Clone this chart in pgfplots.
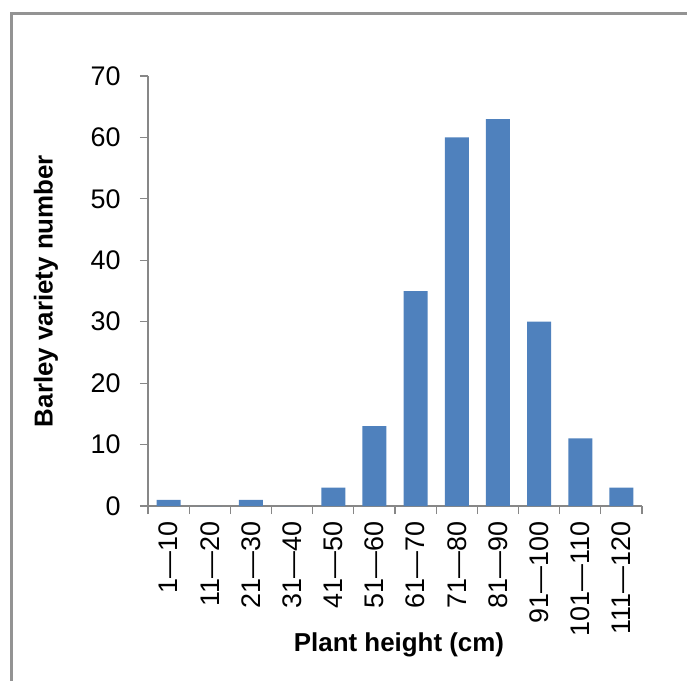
\documentclass[border=0pt]{standalone}
\usepackage{pgfplots}
\pgfplotsset{compat=1.18}
\usepackage{fontspec}
\setmainfont{Liberation Sans}
\definecolor{barblue}{HTML}{4F81BD}
\definecolor{axisgray}{HTML}{878787}
\begin{document}
\begin{tikzpicture}
\useasboundingbox (0,0) rectangle (687bp,681bp);
% chart area border (left and top edges visible)
\draw[axisgray!90, line width=3bp] (11bp,0) -- (11bp,667bp) -- (687bp,667bp);
\begin{axis}[
    at={(148bp,175bp)}, anchor=south west,
    scale only axis,
    width=494bp, height=430bp,
    xmin=-0.5, xmax=11.5,
    ymin=0, ymax=70,
    ytick={0,10,...,70},
    xtick={0,...,11},
    xticklabels={1—10,11—20,21—30,31—40,41—50,51—60,61—70,71—80,81—90,91—100,101—110,111—120},
    minor xtick={-0.5,0.5,...,11.5},
    every major x tick/.style={draw=none},
    axis x line*=bottom, axis y line*=left,
    axis line style={axisgray, line width=1.2bp},
    every tick/.style={axisgray, line width=1.2bp},
    tick align=outside,
    major tick length=8bp, minor tick length=8bp,
    y axis line style={-}, x axis line style={-},
    ticklabel style={font=\fontsize{27}{31}\selectfont},
    /pgf/number format/assume math mode=true,
    xticklabel style={rotate=90, anchor=east, xshift=-4bp},
    yticklabel style={xshift=-16bp},
    xlabel={Plant height (cm)},
    ylabel={Barley variety number},
    every axis x label/.style={at={(axis description cs:0.5,0)}, xshift=4bp, yshift=-139bp, anchor=center, font=\fontsize{26}{30}\selectfont\bfseries},
    every axis y label/.style={at={(axis description cs:0,0.5)}, xshift=-102bp, rotate=90, anchor=center, font=\fontsize{26}{30}\selectfont\bfseries},
    ybar, bar width=24bp,
    clip=false,
]
\addplot[fill=barblue, draw=none] coordinates {
    (0,1) (1,0) (2,1) (3,0) (4,3) (5,13) (6,35) (7,60) (8,63) (9,30) (10,11) (11,3)};
\end{axis}
\end{tikzpicture}
\end{document}
